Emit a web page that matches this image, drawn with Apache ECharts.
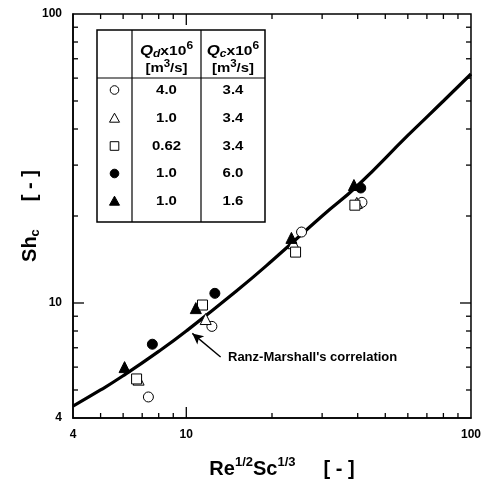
<!DOCTYPE html>
<html>
<head>
<meta charset="utf-8">
<script src="https://cdn.jsdelivr.net/npm/echarts@6/dist/echarts.min.js"></script>
<style>html,body{margin:0;padding:0;background:#fff;}#c{width:484px;height:485px;}</style>
</head>
<body>
<div id="c"></div>
<script>
// ---- data ----
const curveX = [4, 5, 6, 8, 10, 15, 20, 30, 40, 60, 80, 100];
const curveY = [4.4, 5.0, 5.6, 6.8, 8.0, 11.0, 14.0, 20.0, 25.5, 38.0, 50.0, 62.0];

const openCircle = [[7.36, 4.73], [12.3, 8.3], [25.4, 17.6], [41.4, 22.3]];
const openTriangle = [[6.8, 5.43], [11.7, 8.8], [23.8, 16.1], [39.7, 22.2]];
const openSquare = [[6.69, 5.46], [11.4, 9.84], [24.2, 15.0], [39.1, 21.8]];
const filledCircle = [[7.6, 7.2], [12.6, 10.8], [41.0, 25.0]];
const filledTriangle = [[6.07, 6.0], [10.8, 9.6], [23.4, 16.8], [38.8, 25.6]];

const qdValues = ['4.0', '1.0', '0.62', '1.0', '1.0'];
const qcValues = ['3.4', '3.4', '3.4', '6.0', '1.6'];

const minorTicks = [5, 6, 7, 8, 9, 20, 30, 40, 50, 60, 70, 80, 90];
const majorTicks = [10];

const annotationText = "Ranz-Marshall's correlation";
const arrowFrom = [13.2, 6.5];
const arrowTo = [10.5, 7.85];

// ---- chart ----
const FONT = '"Liberation Sans", Arial, Helvetica, sans-serif';
const chart = echarts.init(document.getElementById('c'), null, {renderer: 'canvas'});

const markerDefs = [
  {data: openCircle, symbol: 'circle', filled: false, size: 10},
  {data: openTriangle, symbol: 'triangle', filled: false, size: 11},
  {data: openSquare, symbol: 'rect', filled: false, size: 10},
  {data: filledCircle, symbol: 'circle', filled: true, size: 10},
  {data: filledTriangle, symbol: 'triangle', filled: true, size: 11}
];

const curveData = curveX.map((x, i) => [x, curveY[i]]);

function tickSeries(values, len, isX) {
  return {
    type: 'custom',
    silent: true,
    z: 5,
    clip: false,
    data: values.map(v => isX ? [v, 4] : [4, v]),
    renderItem: function (params, api) {
      const v = isX ? api.value(0) : api.value(1);
      let a, b;
      if (isX) {
        a = api.coord([v, 4]); b = api.coord([v, 100]);
        return {type: 'group', children: [
          {type: 'line', shape: {x1: a[0], y1: a[1], x2: a[0], y2: a[1] - len}, style: {stroke: '#000', lineWidth: 1.3}},
          {type: 'line', shape: {x1: b[0], y1: b[1], x2: b[0], y2: b[1] + len}, style: {stroke: '#000', lineWidth: 1.3}}
        ]};
      } else {
        a = api.coord([4, v]); b = api.coord([100, v]);
        return {type: 'group', children: [
          {type: 'line', shape: {x1: a[0], y1: a[1], x2: a[0] + len, y2: a[1]}, style: {stroke: '#000', lineWidth: 1.3}},
          {type: 'line', shape: {x1: b[0], y1: b[1], x2: b[0] - len, y2: b[1]}, style: {stroke: '#000', lineWidth: 1.3}}
        ]};
      }
    }
  };
}

const series = [
  {
    type: 'line',
    data: curveData,
    smooth: true,
    showSymbol: false,
    symbol: 'none',
    lineStyle: {color: '#000', width: 3.2},
    z: 3,
    markLine: {
      silent: true,
      symbol: ['none', 'arrow'],
      symbolSize: [8, 11],
      label: {show: false},
      lineStyle: {color: '#000', width: 1.4, type: 'solid'},
      data: [[{coord: arrowFrom}, {coord: arrowTo}]]
    }
  },
  tickSeries(minorTicks, 5, true),
  tickSeries(majorTicks, 11, true),
  tickSeries(minorTicks, 5, false),
  tickSeries(majorTicks, 11, false)
];
markerDefs.forEach(m => {
  series.push({
    type: 'scatter',
    data: m.data,
    symbol: m.symbol,
    symbolSize: m.size,
    z: 4,
    itemStyle: {color: m.filled ? '#000' : '#fff', borderColor: '#000', borderWidth: 1, opacity: 1}
  });
});

// legend table (graphic), built from the marker definitions and the table arrays
const T = {x: 97, y: 30, w: 168, h: 192, c1: 132, c2: 201, hy: 78};
const rowY = [90, 118, 146, 173.5, 201];
const colC = [(T.x + T.c1) / 2, (T.c1 + T.c2) / 2, (T.c2 + T.x + T.w) / 2];
const graphics = [
  {type: 'rect', shape: {x: T.x, y: T.y, width: T.w, height: T.h}, style: {fill: '#fff', stroke: '#000', lineWidth: 1.5}, z: 10},
  {type: 'line', shape: {x1: T.c1, y1: T.y, x2: T.c1, y2: T.y + T.h}, style: {stroke: '#000', lineWidth: 1.2}, z: 11},
  {type: 'line', shape: {x1: T.c2, y1: T.y, x2: T.c2, y2: T.y + T.h}, style: {stroke: '#000', lineWidth: 1.2}, z: 11},
  {type: 'line', shape: {x1: T.x, y1: T.hy, x2: T.x + T.w, y2: T.hy}, style: {stroke: '#000', lineWidth: 1.2}, z: 11}
];
const headRich = {
  qi: {fontSize: 14, fontWeight: 'bold', fontStyle: 'italic', fontFamily: FONT, fill: '#000'},
  sub: {fontSize: 10, fontWeight: 'bold', fontStyle: 'italic', fontFamily: FONT, fill: '#000', padding: [6, 0, 0, 0]},
  n: {fontSize: 13, fontWeight: 'bold', fontFamily: FONT, fill: '#000'},
  sup: {fontSize: 10, fontWeight: 'bold', fontFamily: FONT, fill: '#000', padding: [0, 0, 9, 0]}
};
[['d', 1], ['c', 2]].forEach(([s, ci]) => {
  graphics.push({type: 'text', x: colC[ci], y: 51, scaleX: 1.2, z: 12, style: {
    text: '{qi|Q}{sub|' + s + '}{n|x10}{sup|6}', rich: headRich, align: 'center', verticalAlign: 'middle'}});
  graphics.push({type: 'text', x: colC[ci], y: 68.5, scaleX: 1.15, z: 12, style: {
    text: '{n|[m}{sup|3}{n|/s]}', rich: headRich, align: 'center', verticalAlign: 'middle'}});
});
markerDefs.forEach((m, i) => {
  const cx = colC[0], cy = rowY[i];
  const st = {fill: m.filled ? '#000' : '#fff', stroke: '#000', lineWidth: 1};
  if (m.symbol === 'circle') graphics.push({type: 'circle', shape: {cx: cx, cy: cy, r: 4.3}, style: st, z: 12});
  else if (m.symbol === 'rect') graphics.push({type: 'rect', shape: {x: cx - 4.3, y: cy - 4.3, width: 8.6, height: 8.6}, style: st, z: 12});
  else graphics.push({type: 'polygon', shape: {points: [[cx, cy - 4.8], [cx + 5, cy + 4.2], [cx - 5, cy + 4.2]]}, style: st, z: 12});
  graphics.push({type: 'text', x: colC[1], y: cy, scaleX: 1.15, z: 12, style: {text: qdValues[i], font: 'bold 13px ' + FONT, fill: '#000', align: 'center', verticalAlign: 'middle'}});
  graphics.push({type: 'text', x: colC[2], y: cy, scaleX: 1.15, z: 12, style: {text: qcValues[i], font: 'bold 13px ' + FONT, fill: '#000', align: 'center', verticalAlign: 'middle'}});
});
graphics.push({type: 'text', x: 228, y: 357, z: 12, style: {text: annotationText, font: 'bold 13px ' + FONT, fill: '#000', align: 'left', verticalAlign: 'middle'}});

const nameRich = {
  b: {fontSize: 20, fontWeight: 'bold', fontFamily: FONT, color: '#000'},
  sup: {fontSize: 13, fontWeight: 'bold', fontFamily: FONT, color: '#000', padding: [0, 0, 13, 0]},
  sub: {fontSize: 13, fontWeight: 'bold', fontFamily: FONT, color: '#000', padding: [11, 0, 0, 0]},
  sp: {fontSize: 20, width: 28}
};

chart.setOption({
  animation: false,
  backgroundColor: '#fff',
  grid: {left: 73, top: 14, right: 9, bottom: 67, show: true, borderColor: '#000', borderWidth: 1.5, backgroundColor: 'transparent'},
  xAxis: {
    type: 'log', logBase: 10, min: 4, max: 100,
    axisLine: {show: true, lineStyle: {color: '#000', width: 1.5}},
    axisTick: {show: false},
    splitLine: {show: false},
    axisLabel: {color: '#000', fontSize: 12, fontWeight: 'bold', fontFamily: FONT, margin: 11},
    name: '{b|Re}{sup|1/2}{b|Sc}{sup|1/3}{sp|}{b|[ - ]}',
    nameLocation: 'middle', nameGap: 38, nameMoveOverlap: false,
    nameTextStyle: {rich: nameRich, padding: [0, 0, 0, 20]}
  },
  yAxis: {
    type: 'log', logBase: 10, min: 4, max: 100,
    axisLine: {show: true, lineStyle: {color: '#000', width: 1.5}},
    axisTick: {show: false},
    splitLine: {show: false},
    axisLabel: {color: '#000', fontSize: 12, fontWeight: 'bold', fontFamily: FONT, margin: 11},
    name: '{b|Sh}{sub|c}{sp|}{b|[ - ]}',
    nameLocation: 'middle', nameGap: 31, nameRotate: 90, nameMoveOverlap: false,
    nameTextStyle: {rich: nameRich}
  },
  series: series,
  graphic: graphics
});
</script>
</body>
</html>
